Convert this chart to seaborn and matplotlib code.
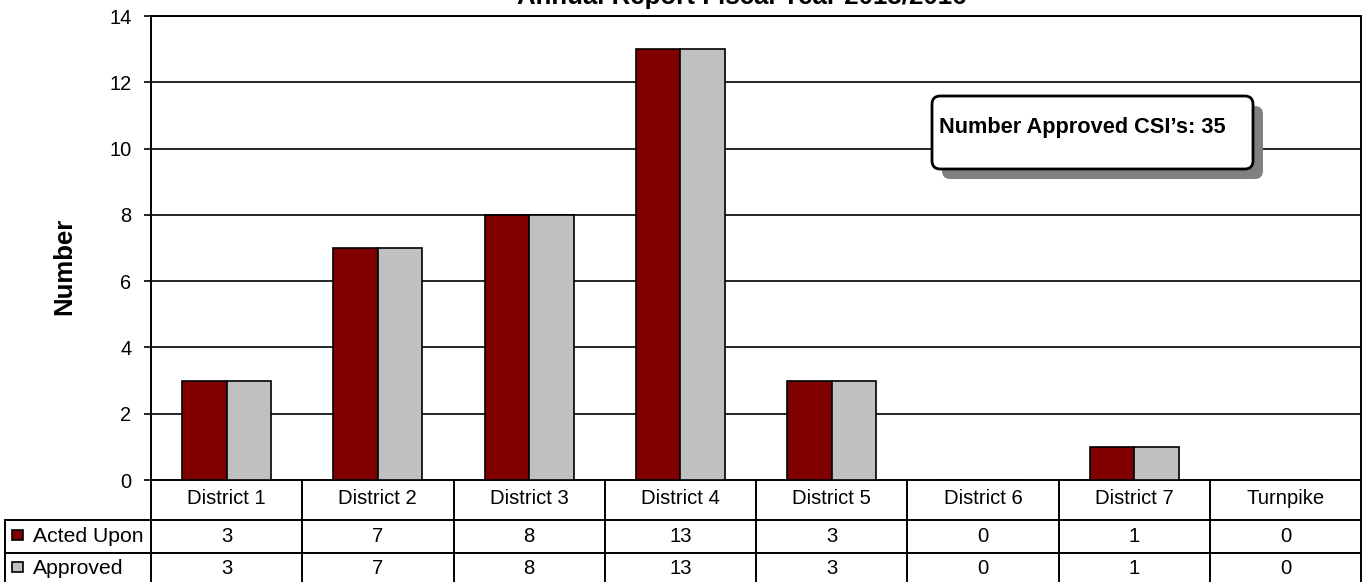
import matplotlib
matplotlib.use("Agg")
import matplotlib.pyplot as plt
from matplotlib.lines import Line2D
from matplotlib.patches import FancyBboxPatch, Rectangle
from matplotlib.transforms import blended_transform_factory
import pandas as pd
import seaborn as sns

# ---- data ----
districts = ["District 1", "District 2", "District 3", "District 4",
             "District 5", "District 6", "District 7", "Turnpike"]
acted_upon = [3, 7, 8, 13, 3, 0, 1, 0]
approved = [3, 7, 8, 13, 3, 0, 1, 0]
series_names = ["Acted Upon", "Approved"]
series_colors = ["#800000", "#C0C0C0"]
y_ticks = [0, 2, 4, 6, 8, 10, 12, 14]
title = "Annual Report Fiscal Year 2015/2016"

df = pd.DataFrame({
    "District": districts * 2,
    "Series": [series_names[0]] * len(districts) + [series_names[1]] * len(districts),
    "Value": acted_upon + approved,
})

sns.set_style("white")
plt.rcParams["font.family"] = ["Liberation Sans", "DejaVu Sans"]
plt.rcParams["text.color"] = "black"
plt.rcParams["axes.labelcolor"] = "black"
plt.rcParams["ytick.color"] = "black"
plt.rcParams["xtick.color"] = "black"

W, H = 1369, 582
fig = plt.figure(figsize=(W / 100, H / 100), dpi=100)

# plot area in pixel terms
ax_l, ax_r, ax_t, ax_b = 151, 1361, 16, 480
ax = fig.add_axes([ax_l / W, 1 - ax_b / H, (ax_r - ax_l) / W, (ax_b - ax_t) / H])


def fy(y):
    return 1 - y / H


def fx(x):
    return x / W


sns.barplot(data=df, x="District", y="Value", hue="Series", order=districts,
            hue_order=series_names, palette=series_colors, width=0.59,
            edgecolor="black", linewidth=1.2, saturation=1, ax=ax, legend=False,
            zorder=3)

ax.set_xlim(-0.5, len(districts) - 0.5)
ax.set_ylim(0, 14)
ax.set_yticks(y_ticks)
ax.set_yticklabels([str(t) for t in y_ticks], fontsize=14.4)
ax.set_xticks([])
ax.set_xlabel("")
ax.set_ylabel("")
ax.tick_params(axis="y", direction="out", length=5, width=1.2, color="black",
               labelcolor="black", pad=9, left=True)
for y in y_ticks[1:]:
    ax.axhline(y, color="black", lw=1.2, zorder=1)
for s in ["left", "right", "top", "bottom"]:
    ax.spines[s].set_visible(True)
    ax.spines[s].set_color("black")
    ax.spines[s].set_linewidth(1.4)

# y-axis label
fig.text(fx(64), fy(266), "Number", rotation=90, ha="center", va="center",
         fontsize=18.5, fontweight="bold", color="black")

# title (sits at the very top edge)
fig.text(fx(742), fy(4), title, ha="center", va="baseline",
         fontsize=18.6, fontweight="bold", color="black")

# ---- data table below the axis ----
tr = blended_transform_factory(ax.transData, fig.transFigure)
row_lines = [520, 553]
x_left_edge = -0.5
x_right_edge = len(districts) - 0.5
for yl in row_lines:
    ax.add_line(Line2D([x_left_edge, x_right_edge], [fy(yl), fy(yl)], transform=tr,
                       color="black", lw=1.4, clip_on=False))
    fig.add_artist(Line2D([fx(5), fx(ax_l)], [fy(yl), fy(yl)], color="black", lw=1.4))
for i in range(len(districts) + 1):
    xb = i - 0.5
    ax.add_line(Line2D([xb, xb], [fy(ax_b), fy(582)], transform=tr,
                       color="black", lw=1.4, clip_on=False))
fig.add_artist(Line2D([fx(5), fx(5)], [fy(520), fy(582)], color="black", lw=1.4))

for i, name in enumerate(districts):
    ax.text(i, fy(499), name, transform=tr, ha="center", va="center", fontsize=14.6)
    ax.text(i, fy(536), str(acted_upon[i]), transform=tr, ha="center", va="center",
            fontsize=14.6)
    ax.text(i, fy(568), str(approved[i]), transform=tr, ha="center", va="center",
            fontsize=14.6)

for name, color, yc in zip(series_names, series_colors, [536, 568]):
    fig.add_artist(Rectangle((fx(12), fy(yc + 4)), 11 / W, 10 / H,
                             facecolor=color, edgecolor="black", lw=1.2))
    fig.text(fx(33), fy(yc), name, ha="left", va="center", fontsize=15.2)

# ---- callout with total approved ----
total_approved = sum(approved)
bx0, by0, bx1, by1 = 932, 96, 1253, 169
shadow = FancyBboxPatch((fx(bx0 + 10), fy(by1 + 10)), (bx1 - bx0) / W, (by1 - by0) / H,
                        boxstyle="round,pad=0,rounding_size=0.006",
                        facecolor="#808080", edgecolor="none",
                        transform=fig.transFigure, mutation_aspect=W / H)
box = FancyBboxPatch((fx(bx0), fy(by1)), (bx1 - bx0) / W, (by1 - by0) / H,
                     boxstyle="round,pad=0,rounding_size=0.006",
                     facecolor="white", edgecolor="black", lw=2,
                     transform=fig.transFigure, mutation_aspect=W / H)
fig.add_artist(shadow)
fig.add_artist(box)
fig.text(fx(939), fy(127), f"Number Approved CSI\u2019s: {total_approved}",
         ha="left", va="center", fontsize=15.7, fontweight="bold", color="black")

fig.savefig("out.png", dpi=100)
